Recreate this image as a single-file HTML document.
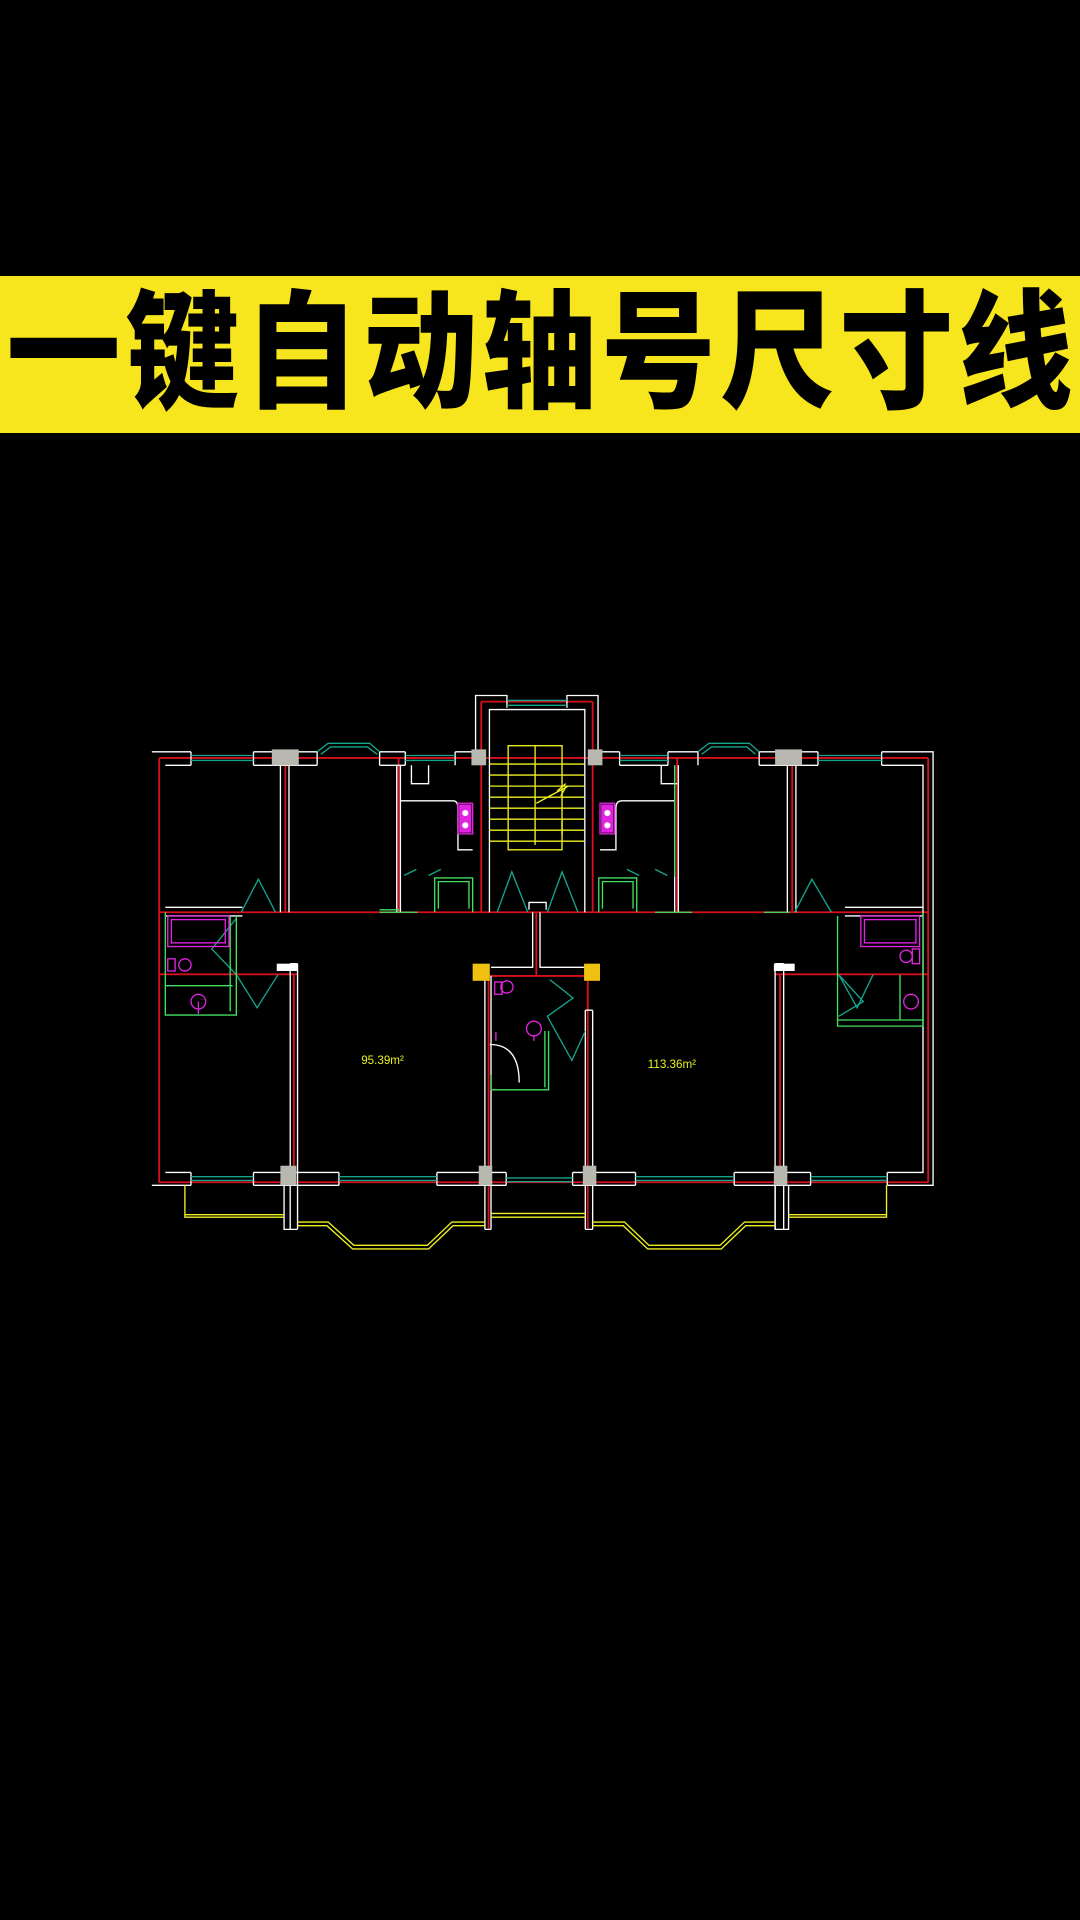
<!DOCTYPE html>
<html><head><meta charset="utf-8"><style>
html,body{margin:0;padding:0;background:#000;width:1080px;height:1920px;overflow:hidden}
.banner{position:absolute;left:0;top:276px;width:1080px;height:157px;background:#f7e51d;overflow:hidden}
.banner span{position:absolute;top:0;width:119px;height:157px;line-height:157px;text-align:center;font-family:"Liberation Sans","Noto Sans CJK SC",sans-serif;font-weight:900;font-size:114px;color:#000;transform:scaleY(1.12)}
svg{position:absolute;left:0;top:0}
</style></head><body>
<div class="banner">
<span style="left:4px">一</span><span style="left:123px">键</span><span style="left:242px">自</span><span style="left:361px">动</span><span style="left:480px">轴</span><span style="left:599px">号</span><span style="left:718px">尺</span><span style="left:837px">寸</span><span style="left:956px">线</span>
</div>
<svg width="1080" height="1920" viewBox="0 0 882 1568" fill="none" stroke-width="1.1">
<g stroke="#d8101c" stroke-width="1.5">
<line x1="130" y1="619" x2="758" y2="619"/>
<line x1="130" y1="745" x2="758" y2="745"/>
<line x1="130" y1="795.7" x2="243" y2="795.7"/>
<line x1="633" y1="795.7" x2="758" y2="795.7"/>
<line x1="130" y1="965.5" x2="758" y2="965.5"/>
<line x1="130" y1="619" x2="130" y2="966"/>
<line x1="758" y1="619" x2="758" y2="966"/>
<line x1="233" y1="619" x2="233" y2="745"/>
<line x1="647" y1="619" x2="647" y2="745"/>
<line x1="325.5" y1="619" x2="325.5" y2="745"/>
<line x1="553" y1="619" x2="553" y2="745"/>
<line x1="393" y1="573" x2="393" y2="745"/>
<line x1="484" y1="573" x2="484" y2="745"/>
<line x1="393" y1="573" x2="484" y2="573"/>
<line x1="399" y1="797" x2="399" y2="1004"/>
<line x1="480" y1="797" x2="480" y2="1004"/>
<line x1="438" y1="745" x2="438" y2="797"/>
<line x1="399" y1="797" x2="480" y2="797"/>
<line x1="240" y1="795" x2="240" y2="966"/>
<line x1="637" y1="795" x2="637" y2="966"/>
</g>
<g stroke="#fff">
<path d="M124 614 H156 M207 614 H259 M310 614 H331 M371.7 614 H388.4 M488.4 614 H506 M545.5 614 H570 M620 614 H668 M720 614 H762 V968 H724.6 M662 968 H599.6 M519 968 H467.6 M413.4 968 H356.8 M276.8 968 H207 M156 968 H124 Z"/>
<path d="M135 625 H156 M207 625 H259 M310 625 H331 M506 625 H545.5 M620 625 H668 M720 625 H753.8 V957.5 H724.6 M662 957.5 H599.6 M519 957.5 H467.6 M413.4 957.5 H356.8 M276.8 957.5 H207 M156 957.5 H135 Z"/>
<path d="M156 614 V625 M207 614 V625 M259 614 V625 M310 614 V625 M331 614 V625 M371.7 614 V625 M506 614 V625 M545.5 614 V625 M570 614 V625 M620 614 V625 M668 614 V625 M720 614 V625"/>
<path d="M156 968 V957.5 M207 968 V957.5 M276.8 968 V957.5 M356.8 968 V957.5 M413.4 968 V957.5 M467.6 968 V957.5 M519 968 V957.5 M599.6 968 V957.5 M662 968 V957.5 M724.6 968 V957.5"/>
<path d="M388.4 614 V568 H414 V578 M463 578 V568 H488.4 V614"/>
<path d="M399.7 745 V579.5 H477.6 V745"/>
<path d="M229 625 V745 M236 625 V745"/>
<path d="M643 625 V745 M650 625 V745"/>
<path d="M135 741 H198 M135 748 H198"/>
<path d="M690 741 H753.8 M690 748 H753.8"/>
<path d="M237 787 V1004 M243 787 V1004 M237 787 H243 M237 792 H243"/>
<path d="M633 787 V1004 M640 787 V1004 M633 787 H640"/>
<path d="M232 968 V1004 H243 M232 968 V1004"/>
<path d="M633 968 V1004 H644 V968"/>
<path d="M396 797 V1004 M401 797 V1004 M396 1004 H401"/>
<path d="M478 825 V1004 M484 825 V1004 M478 1004 H484 M478 825 H484"/>
<path d="M435 745 V790 H401 M441 745 V790 H478"/>
<path d="M432 743 V737 H446 V743"/>
<path d="M324 625 V745 M327 625 V745"/>
<path d="M551 625 V745 M554 625 V745"/>
<path d="M327 654 H370 Q374 654 374 660 V694 H386 M551 654 H508 Q503 654 503 660 V694 H490"/>
<path d="M336 625 V640 H350 V625 M540 625 V640 H553"/>
<path d="M400 853 Q424 853 424 884"/>
</g>
<g stroke="#14a48c">
<path d="M156 617 H207 M156 621 H207 M331 617 H371.7 M331 621 H371.7 M506 617 H545.5 M506 621 H545.5 M668 617 H720 M668 621 H720"/>
<path d="M259 614 L268 607 H302 L310 614 M262 616 L270 610 H300 L308 616"/>
<path d="M570 614 L579 607 H612 L620 614 M573 616 L581 610 H610 L617 616"/>
<path d="M414 572 H463 M414 576 H463"/>
<path d="M156 961 H207 M156 964 H207 M276.8 961 H356.8 M276.8 964 H356.8 M413.4 962 H467.6 M413.4 965 H467.6 M519 961 H599.6 M519 964 H599.6 M662 961 H724.6 M662 964 H724.6"/>
<path d="M197 745 L211 718 L225 745 M649 745 L663 718 L679 745"/>
<path d="M406 745 L418 712 L431 745 M447 745 L459 712 L472 745"/>
<path d="M193 750 L173 775 L193 796 L210 823 L227 796"/>
<path d="M685 796 L700 823 L713 796 M685 796 L705 818 L685 830"/>
<path d="M449 800 L468 815 L447 830 L467 866 L478 842"/>
<path d="M330 715 L340 710 M350 715 L360 710 M545 715 L535 710 M522 715 L512 710"/>
</g>
<g stroke="#40e060">
<path d="M135 745 V829 H193 V748 M135 805 H190 M188 748 V826"/>
<path d="M753.8 745 V838 H684 V748 M735 796 V833 M684 833 H753.8"/>
<path d="M401 878 V890 H448 V842 M445 842 V888"/>
<path d="M355 745 V717 H386 V745 M358 742 V720 H383 V742 M489 745 V717 H520 V745 M492 742 V720 H517 V742"/>
<path d="M310 745 H341 M310 743 H326 M535 745 H565 M624 745 H645"/>
<path d="M551 625 V716"/>
</g>
<g stroke="#e024e0">
<rect x="137" y="748" width="50" height="25"/>
<rect x="140" y="751" width="44" height="19"/>
<circle cx="151" cy="788" r="5"/><rect x="137" y="783" width="6" height="10"/>
<circle cx="162" cy="818" r="6"/><line x1="162" y1="818" x2="162" y2="828"/>
<rect x="703" y="748" width="48" height="25"/>
<rect x="706" y="751" width="42" height="19"/>
<circle cx="740" cy="781" r="5"/><rect x="745" y="775" width="6" height="12"/>
<circle cx="744" cy="818" r="6"/>
<circle cx="414" cy="806" r="5"/><rect x="404" y="802" width="6" height="10"/>
<circle cx="436" cy="840" r="6"/><line x1="436" y1="846" x2="436" y2="850"/>
<line x1="405" y1="843" x2="405" y2="850"/>
<rect x="374" y="656" width="12" height="25"/>
<rect x="490" y="656" width="12" height="25"/>
</g>
<g fill="#e024e0"><rect x="375" y="657" width="10" height="23"/><rect x="491" y="657" width="10" height="23"/></g>
<g fill="#fff"><circle cx="380" cy="664" r="2.5"/><circle cx="380" cy="674" r="2.5"/><circle cx="496" cy="664" r="2.5"/><circle cx="496" cy="674" r="2.5"/>
<rect x="226" y="787" width="17" height="6"/><rect x="632" y="787" width="17" height="6"/></g>
<g stroke="#eef020">
<rect x="415" y="609" width="44" height="85"/>
<path d="M400 624 H477 M400 633 H477 M400 642 H477 M400 651 H477 M400 660 H477 M400 669 H477 M400 678 H477 M400 687 H477"/>
<line x1="437" y1="609" x2="437" y2="690"/>
<path d="M438 656 L464 642 M455 646 L462 640 M458 650 L462 643"/>
<line x1="459" y1="670" x2="459" y2="682"/>
<path d="M151 968 V994 H232 M151 968 V992 H232"/>
<path d="M724 968 V994 H644 M724 968 V992 H644"/>
<path d="M401 991 H478 M401 994 H478"/>
<path d="M243 998 H268 L289 1017 H349 L369 998 H396 M243 1001 H267 L288 1020 H350 L370 1001 H396"/>
<path d="M484 998 H510 L530 1017 H588 L608 998 H633 M484 1001 H509 L529 1020 H589 L609 1001 H633"/>
</g>
<g fill="#f0c010"><rect x="386" y="787" width="14" height="14"/><rect x="477" y="787" width="13" height="14"/></g>
<g fill="#b8b8b0"><rect x="222" y="612" width="22" height="13"/><rect x="633" y="612" width="22" height="13"/>
<rect x="385" y="612" width="12" height="13"/><rect x="480" y="612" width="12" height="13"/>
<rect x="229" y="952" width="13" height="16"/><rect x="391" y="952" width="11" height="16"/><rect x="476" y="952" width="11" height="16"/><rect x="632" y="952" width="11" height="16"/></g>
<g font-family="Liberation Sans, sans-serif" font-size="9.5" fill="#e8f020">
<text x="295" y="869">95.39m²</text>
<text x="529" y="872">113.36m²</text>
</g>
</svg>
</body></html>
